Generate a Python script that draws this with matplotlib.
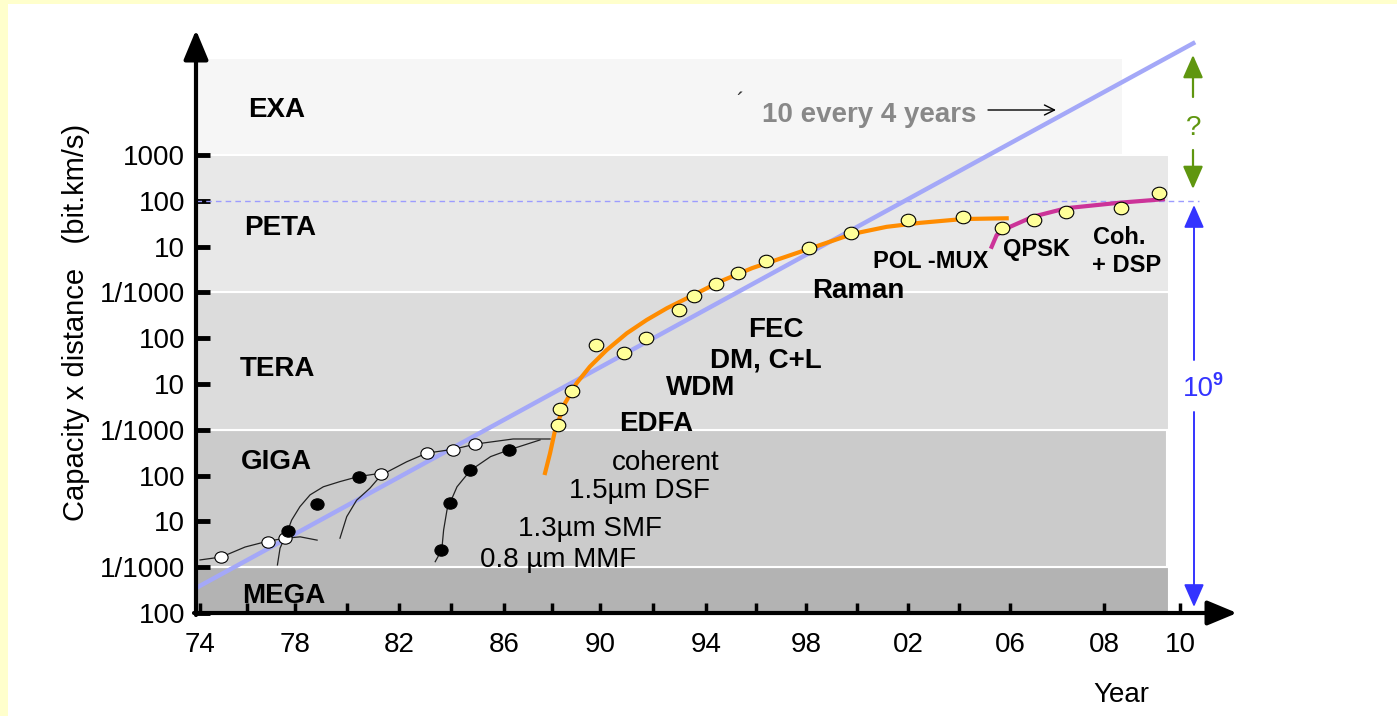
"""Capacity x distance of optical transmission records, 1974-2010."""

import numpy as np
import matplotlib
matplotlib.use("Agg")
import matplotlib.pyplot as plt
from matplotlib.markers import MarkerStyle
from matplotlib.patches import Rectangle
from matplotlib.path import Path
from matplotlib.ticker import NullLocator
from matplotlib.transforms import Affine2D

# ---- values: year, capacity x distance in bit.km/s ----
OPEN_YEARS = [1974.9, 1976.85, 1977.6, 1981.3, 1983.05, 1984.05, 1984.9]
OPEN_VALUES = [1.7e9, 3.6e9, 4.3e9, 1.1e11, 3.1e11, 3.7e11, 4.9e11]

FILLED_YEARS = [1977.7, 1978.85, 1980.45, 1983.6, 1983.95, 1984.7, 1986.2]
FILLED_VALUES = [6.2e9, 2.4e10, 9.5e10, 2.4e9, 2.5e10, 1.3e11, 3.6e11]

AMPLIFIED_YEARS = [1988.25, 1988.35, 1988.85, 1989.85, 1990.9, 1991.75, 1993.0,
                   1993.55, 1994.4, 1995.3, 1996.4, 1998.1, 1999.75, 2002.0,
                   2004.15, 2005.7, 2006.5, 2007.2, 2008.45, 2009.45]
AMPLIFIED_VALUES = [1.3e12, 2.9e12, 7.0e12, 7.1e13, 4.8e13, 1.0e14, 4.1e14,
                    8.3e14, 1.5e15, 2.7e15, 4.9e15, 9.2e15, 1.95e16, 3.8e16,
                    4.4e16, 2.6e16, 3.8e16, 5.6e16, 6.9e16, 1.46e17]

# hand-drawn generation curves (black)
MMF_YEARS = [1974.0, 1974.9, 1975.9, 1976.85, 1977.6, 1978.2, 1978.85]
MMF_VALUES = [1.44e9, 1.67e9, 2.76e9, 3.7e9, 4.3e9, 4.6e9, 3.9e9]
SMF_EARLY_YEARS = [1977.26, 1977.37, 1977.65, 1977.86, 1978.19, 1978.58,
                   1979.09, 1979.73, 1980.43, 1981.27]
SMF_EARLY_VALUES = [1.12e9, 2.6e9, 5.5e9, 1.07e10, 2.1e10, 3.8e10, 5.7e10,
                    7.4e10, 9.5e10, 1.12e11]
SMF_YEARS = [1979.73, 1979.99, 1980.37, 1980.88, 1981.32, 1982.29, 1983.06,
             1984.07, 1984.93, 1986.38, 1987.92]
SMF_VALUES = [4.3e9, 1.27e10, 2.9e10, 5.3e10, 1.03e11, 2.0e11, 3.1e11,
              3.75e11, 4.9e11, 6.3e11, 6.3e11]
DSF_YEARS = [1983.38, 1983.63, 1983.7, 1983.83, 1984.21, 1984.72, 1985.49,
             1986.18, 1987.5]
DSF_VALUES = [1.32e9, 2.4e9, 6.5e9, 1.8e10, 5.7e10, 1.3e11, 2.6e11, 3.6e11,
              6.0e11]

# amplified era (orange) and coherent era (magenta)
EDFA_YEARS = [1987.71, 1987.92, 1988.13, 1988.54, 1989.03, 1989.58, 1990.25,
              1991.01, 1991.76, 1992.52, 1993.27, 1994.03, 1994.53, 1995.85,
              1997.19, 1998.55, 1999.84, 2001.16, 2002.47, 2004.16, 2005.87]
EDFA_VALUES = [1.14e11, 3.1e11, 9.9e11, 3.8e12, 1.05e13, 2.4e13, 5.5e13,
               1.28e14, 2.5e14, 4.5e14, 7.4e14, 1.23e15, 1.7e15, 3.4e15,
               6.0e15, 1.08e16, 1.9e16, 2.7e16, 3.3e16, 4.0e16, 4.15e16]
COHERENT_YEARS = [2005.28, 2005.48, 2006.0, 2006.49, 2007.2, 2008.42, 2009.55]
COHERENT_VALUES = [9.9e15, 1.8e16, 2.7e16, 4.5e16, 6.9e16, 9.1e16, 1.08e17]

# "x10 every 4 years" trend
TREND_YEARS = [1973.7, 2010.4]
TREND_VALUES = [3.2e8, 2.9e20]
LIMIT_VALUE = 1e17

BAND_NAMES = ["MEGA", "GIGA", "TERA", "PETA", "EXA"]
BAND_LOW = [1e8, 1e9, 1e12, 1e15, 1e18]
BAND_HIGH = [1e9, 1e12, 1e15, 1e18, 1.3e20]
BAND_END = [2009.7, 2009.65, 2009.7, 2009.7, 2008.5]

Y_TICK_VALUES = [1e8, 1e9, 1e10, 1e11, 1e12, 1e13, 1e14, 1e15, 1e16, 1e17, 1e18]
Y_TICK_LABELS = ["100", "1/1000", "10", "100", "1/1000", "10", "100",
                 "1/1000", "10", "100", "1000"]
X_TICK_YEARS = [1974, 1978, 1982, 1986, 1990, 1994, 1998, 2002, 2006, 2008, 2010]
X_TICK_LABELS = ["74", "78", "82", "86", "90", "94", "98", "02", "06", "08", "10"]
X_MINOR_YEARS = [1976, 1980, 1984, 1988, 1992, 1996, 2000, 2004]

# ---- layout ----
W, H, DPI = 1397, 716, 100
BAND_COLORS = ["#b3b3b3", "#cbcbcb", "#dcdcdc", "#e8e8e8", "#f6f6f6"]
TREND_COLOR = "#a4a8f8"
GREEN = "#5f960f"
BLUE = "#3434ff"

# the year axis of the original is stretched after 2006
SCALE_YEARS = [1970, 1974, 1978, 1982, 1986, 1990, 1994, 1998, 2002, 2006, 2008, 2010, 2014]
SCALE_POS = [102, 200, 295, 399, 504, 600, 706, 806, 908, 1010, 1104, 1180, 1332]


def year_to_pos(year):
    return np.interp(year, SCALE_YEARS, SCALE_POS)


def pos_to_year(pos):
    return np.interp(pos, SCALE_POS, SCALE_YEARS)


def at(x, y):
    """Reference pixel -> figure fraction."""
    return x / W, 1 - y / H


def label(x, y, text, **kw):
    kw.setdefault("fontsize", 20)
    fig.text(*at(x, y), text, va="baseline", **kw)


def arrow(x0, y0, x1, y1, **props):
    ax.annotate("", xy=at(x1, y1), xytext=at(x0, y0), xycoords="figure fraction",
                textcoords="figure fraction", annotation_clip=False,
                arrowprops=dict(shrinkA=0, shrinkB=0, **props))


plt.rcParams["font.family"] = ["Liberation Sans", "DejaVu Sans"]

fig = plt.figure(figsize=(W / DPI, H / DPI), dpi=DPI, facecolor="#ffffcc")
fig.add_artist(Rectangle((8 / W, 0), 1, 1 - 4 / H, transform=fig.transFigure,
                         facecolor="white", edgecolor="none", zorder=-10))

ax = fig.add_axes([196 / W, 1 - 613 / H, (1240 - 196) / W, (613 - 28) / H])
ax.set_facecolor("none")
ax.set_xscale("function", functions=(year_to_pos, pos_to_year))
ax.set_yscale("log")
x_left = pos_to_year(196)
ax.set_xlim(x_left, pos_to_year(1240))
ax.set_ylim(1e8, 10 ** (8 + 585 / 45.8))
for spine in ax.spines.values():
    spine.set_visible(False)

for lo, hi, end, color in zip(BAND_LOW, BAND_HIGH, BAND_END, BAND_COLORS):
    ax.add_patch(Rectangle((x_left, lo), end - x_left, hi - lo, facecolor=color,
                           edgecolor="white", lw=1.5, zorder=1))

ax.plot([x_left, 2010.5], [LIMIT_VALUE, LIMIT_VALUE], color="#9c9cff", lw=1,
        dashes=(4, 3), zorder=2)
ax.plot(TREND_YEARS, TREND_VALUES, color=TREND_COLOR, lw=3.2,
        solid_capstyle="butt", zorder=3)

for xs, ys in [(MMF_YEARS, MMF_VALUES), (SMF_EARLY_YEARS, SMF_EARLY_VALUES),
               (SMF_YEARS, SMF_VALUES), (DSF_YEARS, DSF_VALUES)]:
    ax.plot(xs, ys, color="#222222", lw=0.9, zorder=4)
ax.plot(EDFA_YEARS, EDFA_VALUES, color="#ff8c00", lw=3, zorder=5)
ax.plot(COHERENT_YEARS, COHERENT_VALUES, color="#cc3399", lw=3, zorder=5)

# slightly flattened circles, as in the original
ellipse = MarkerStyle(Path.unit_circle().transformed(Affine2D().scale(1, 0.86)))
ax.plot(OPEN_YEARS, OPEN_VALUES, ls="none", marker=ellipse, ms=9.5,
        mfc="white", mec="black", mew=0.8, zorder=6)
ax.plot(FILLED_YEARS, FILLED_VALUES, ls="none", marker=ellipse, ms=9.5,
        mfc="black", mec="black", mew=0.8, zorder=6)
ax.plot(AMPLIFIED_YEARS, AMPLIFIED_VALUES, ls="none", marker=ellipse, ms=10.5,
        mfc="#ffff99", mec="black", mew=0.8, zorder=6)

ax.set_yticks(Y_TICK_VALUES, Y_TICK_LABELS, fontsize=20)
ax.yaxis.set_minor_locator(NullLocator())
ax.set_xticks(X_TICK_YEARS, X_TICK_LABELS, fontsize=20)
ax.set_xticks(X_MINOR_YEARS, minor=True)
ax.tick_params(axis="y", which="both", direction="in", length=10, width=3.5, pad=8)
ax.tick_params(axis="x", which="both", direction="in", length=7, width=2.5, pad=14)

# axes drawn as arrows
axis_arrow = dict(arrowstyle="-|>,head_length=0.6,head_width=0.25",
                  mutation_scale=30, color="black", lw=3)
arrow(196, 615, 196, 30, **axis_arrow)
arrow(194, 613, 1237, 613, **axis_arrow)

fig.text(*at(76, 322), "Capacity x distance   (bit.km/s)", rotation=90,
         ha="center", va="center", fontsize=21)
label(1093, 702, "Year")

for name, (x, y) in zip(BAND_NAMES, [(242, 603), (241, 469), (240, 376),
                                      (244, 235), (248, 117)]):
    label(x, y, name, fontweight="bold")

label(762, 122, "10 every 4 years", color="#888888", fontweight="bold")
label(736, 108, "\u00b4", fontsize=16, color="#333333")
arrow(988, 110, 1056, 110, arrowstyle="->", color="black", lw=1, mutation_scale=18)

for x, y, text, size in [(748, 337, "FEC", 20), (710, 367, "DM, C+L", 20),
                         (666, 395, "WDM", 20), (619, 431, "EDFA", 20),
                         (812, 298, "Raman", 20), (873, 268, "POL -MUX", 17),
                         (1003, 256, "QPSK", 17), (1093, 244, "Coh.", 17),
                         (1092, 272, "+ DSP", 17)]:
    label(x, y, text, fontweight="bold", fontsize=size)

for x, y, text in [(612, 470, "coherent"), (569, 498, "1.5\u00b5m DSF"),
                   (518, 536, "1.3\u00b5m SMF"), (480, 567, "0.8 \u00b5m MMF")]:
    label(x, y, text)

# growth gap annotations on the right
arrow(1193, 97, 1193, 55, arrowstyle="-|>,head_length=0.5,head_width=0.22",
      mutation_scale=28, color=GREEN, lw=1.6)
arrow(1193, 150, 1193, 189, arrowstyle="-|>,head_length=0.5,head_width=0.22",
      mutation_scale=28, color=GREEN, lw=1.6)
label(1194, 135, "?", color=GREEN, ha="center")

arrow(1194, 360, 1194, 205, arrowstyle="-|>,head_length=0.5,head_width=0.22",
      mutation_scale=28, color=BLUE, lw=1.4)
arrow(1194, 412, 1194, 607, arrowstyle="-|>,head_length=0.5,head_width=0.22",
      mutation_scale=28, color=BLUE, lw=1.4)
label(1183, 396, "10", color=BLUE)
label(1212, 385, "9", color=BLUE, fontsize=13, fontweight="bold")

fig.savefig("out.png", dpi=DPI, facecolor=fig.get_facecolor())
